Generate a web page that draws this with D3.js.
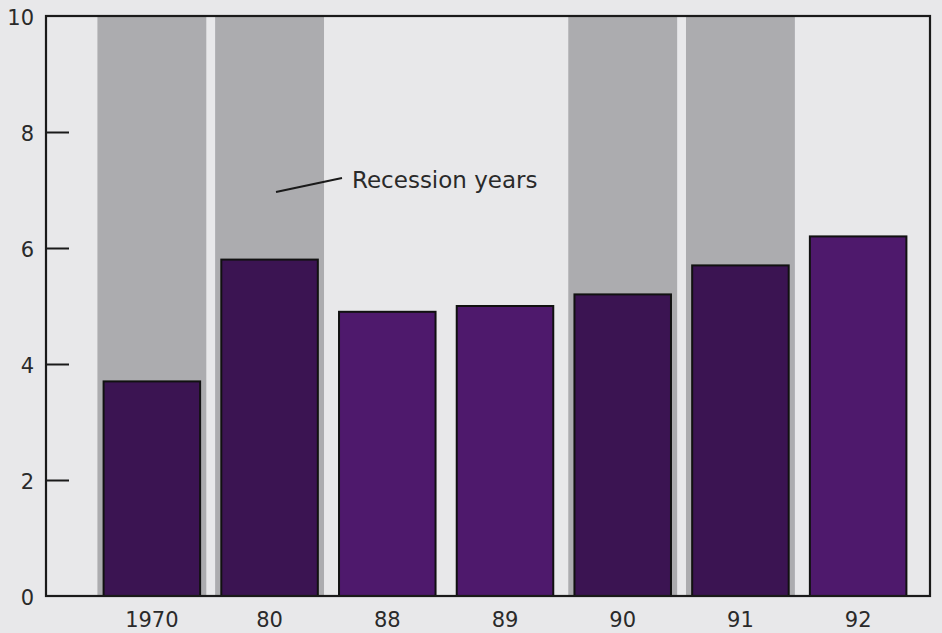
<!DOCTYPE html>
<html>
<head>
<meta charset="utf-8">
<script src="https://cdn.jsdelivr.net/npm/d3@7"></script>
<style>
  html, body { margin: 0; padding: 0; background: #e8e8ea; }
  svg { display: block; }
</style>
</head>
<body>
<svg id="chart" width="942" height="633"></svg>
<script>
// Categories (years) and values
const years = ["1970", "80", "88", "89", "90", "91", "92"];
const values = [3.7, 5.8, 4.9, 5.0, 5.2, 5.7, 6.2];
const recession = ["1970", "80", "90", "91"];
const yTicks = [0, 2, 4, 6, 8, 10];
const annotation = "Recession years";

const svg = d3.select("#chart");
const W = 942, H = 633;
const plotLeft = 46, plotRight = 930, plotTop = 16, plotBottom = 596;

svg.append("rect").attr("width", W).attr("height", H).attr("fill", "#e8e8ea");

const x = d3.scaleBand().domain(years).range([93, 917]).paddingInner(0.18).paddingOuter(0.09);
const y = d3.scaleLinear().domain([0, 10]).range([plotBottom, plotTop]);

// Shaded recession bands spanning the full plot height
const bandW = x.step() * 0.925;
svg.append("g").selectAll("rect").data(recession).join("rect")
  .attr("x", d => x(d) + x.bandwidth() / 2 - bandW / 2)
  .attr("y", plotTop)
  .attr("width", bandW)
  .attr("height", plotBottom - plotTop)
  .attr("fill", "#acacaf");

// Bars
svg.append("g").selectAll("rect").data(years).join("rect")
  .attr("x", d => x(d))
  .attr("y", (d, i) => y(values[i]))
  .attr("width", x.bandwidth())
  .attr("height", (d, i) => y(0) - y(values[i]))
  .attr("fill", d => recession.includes(d) ? "#3b1452" : "#4e196c")
  .attr("stroke", "#111")
  .attr("stroke-width", 2);

// Frame
svg.append("rect")
  .attr("x", plotLeft).attr("y", plotTop)
  .attr("width", plotRight - plotLeft).attr("height", plotBottom - plotTop)
  .attr("fill", "none").attr("stroke", "#1a1a1a").attr("stroke-width", 2.2);

// Y axis (ticks drawn inward)
const yAxis = d3.axisRight(y).tickValues(yTicks).tickSize(23).tickFormat("");
const ya = svg.append("g").attr("transform", `translate(${plotLeft},0)`).call(yAxis);
ya.select(".domain").remove();
ya.selectAll(".tick line").attr("stroke", "#1a1a1a").attr("stroke-width", 2)
  .filter(d => d === 0 || d === 10).remove();

svg.append("g").selectAll("text").data(yTicks).join("text")
  .attr("x", 34)
  .attr("y", d => y(d) + 3)
  .attr("text-anchor", "end")
  .attr("dominant-baseline", "middle")
  .attr("font-family", "'DejaVu Sans', sans-serif")
  .attr("font-size", 21)
  .attr("fill", "#2a2a2a")
  .text(d => d);

// X axis labels
const xAxis = d3.axisBottom(x).tickSize(0).tickPadding(16);
const xa = svg.append("g").attr("transform", `translate(0,${plotBottom})`).call(xAxis);
xa.select(".domain").remove();
xa.selectAll("text")
  .attr("font-family", "'DejaVu Sans', sans-serif")
  .attr("font-size", 21)
  .attr("fill", "#2a2a2a");

// Annotation with leader line
svg.append("line")
  .attr("x1", 276).attr("y1", 192).attr("x2", 342).attr("y2", 178)
  .attr("stroke", "#1a1a1a").attr("stroke-width", 2);
svg.append("text")
  .attr("x", 352).attr("y", 188)
  .attr("font-family", "'DejaVu Sans', sans-serif")
  .attr("font-size", 23)
  .attr("fill", "#2a2a2a")
  .text(annotation);
</script>
</body>
</html>
